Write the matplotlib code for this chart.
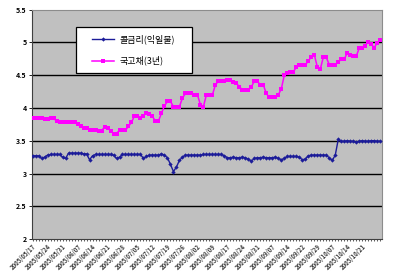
#!/usr/bin/env python3
"""Call rate vs 3y treasury yield line chart (Excel-style)."""

import matplotlib.pyplot as plt
import numpy as np
from matplotlib.patches import Rectangle

plt.rcParams["font.family"] = ["Noto Sans CJK KR", "DejaVu Sans"]

# date labels, one every 5 trading days
date_labels = [
    "2005/05/17", "2005/05/24", "2005/05/31", "2005/06/07", "2005/06/14",
    "2005/06/21", "2005/06/28", "2005/07/05", "2005/07/12", "2005/07/19",
    "2005/07/26", "2005/08/02", "2005/08/09", "2005/08/17", "2005/08/24",
    "2005/08/31", "2005/09/07", "2005/09/14", "2005/09/22", "2005/09/29",
    "2005/10/07", "2005/10/14", "2005/10/21",
]

call_rate = [
    3.27, 3.27, 3.27, 3.23, 3.25, 3.28, 3.29, 3.29, 3.29, 3.29,
    3.25, 3.23, 3.31, 3.31, 3.31, 3.31, 3.31, 3.30, 3.30, 3.21,
    3.27, 3.29, 3.29, 3.29, 3.29, 3.29, 3.29, 3.28, 3.23, 3.25,
    3.29, 3.29, 3.29, 3.29, 3.29, 3.29, 3.29, 3.23, 3.26, 3.28,
    3.28, 3.28, 3.28, 3.30, 3.28, 3.24, 3.14, 3.03, 3.10, 3.20,
    3.25, 3.28, 3.28, 3.28, 3.28, 3.28, 3.28, 3.29, 3.29, 3.29,
    3.29, 3.29, 3.29, 3.29, 3.27, 3.24, 3.24, 3.25, 3.24, 3.24,
    3.25, 3.24, 3.22, 3.19, 3.23, 3.24, 3.24, 3.25, 3.24, 3.24,
    3.24, 3.25, 3.23, 3.21, 3.23, 3.26, 3.26, 3.26, 3.26, 3.25,
    3.21, 3.22, 3.27, 3.28, 3.28, 3.28, 3.28, 3.28, 3.28, 3.24,
    3.20, 3.28, 3.52, 3.49, 3.49, 3.50, 3.49, 3.49, 3.48, 3.49,
    3.50, 3.49, 3.49, 3.50, 3.50, 3.49, 3.49,
]

ktb_3y = [
    3.84, 3.84, 3.84, 3.84, 3.83, 3.83, 3.84, 3.84, 3.80, 3.79,
    3.78, 3.78, 3.78, 3.78, 3.78, 3.75, 3.72, 3.70, 3.70, 3.66,
    3.66, 3.66, 3.65, 3.65, 3.71, 3.70, 3.65, 3.61, 3.61, 3.66,
    3.66, 3.66, 3.72, 3.78, 3.88, 3.88, 3.85, 3.88, 3.93, 3.90,
    3.87, 3.80, 3.80, 3.92, 4.03, 4.10, 4.10, 4.02, 4.02, 4.02,
    4.15, 4.22, 4.22, 4.22, 4.20, 4.20, 4.05, 4.02, 4.20, 4.20,
    4.20, 4.35, 4.41, 4.41, 4.41, 4.43, 4.43, 4.40, 4.38, 4.32,
    4.28, 4.28, 4.28, 4.32, 4.41, 4.41, 4.35, 4.35, 4.22, 4.16,
    4.16, 4.16, 4.20, 4.29, 4.50, 4.53, 4.55, 4.55, 4.62, 4.66,
    4.66, 4.66, 4.71, 4.78, 4.81, 4.63, 4.59, 4.77, 4.77, 4.66,
    4.66, 4.66, 4.70, 4.74, 4.74, 4.84, 4.80, 4.79, 4.79, 4.91,
    4.91, 4.95, 5.01, 4.97, 4.92, 4.99, 5.03,
]

y_ticks = [2, 2.5, 3, 3.5, 4, 4.5, 5, 5.5]
y_tick_labels = ["2", "2.5", "3", "3.5", "4", "4.5", "5", "5.5"]


def main() -> int:
    x = np.arange(len(call_rate))
    fig = plt.figure(figsize=(4.0, 2.8), dpi=100)
    fig.patch.set_facecolor("white")
    ax = fig.add_axes([0.08, 0.146, 0.875, 0.82])
    ax.set_facecolor("#c0c0c0")

    for yv in y_ticks[1:-1]:
        ax.axhline(yv, color="black", linewidth=1.0, zorder=1)

    ax.plot(x, call_rate, color="#1c1c99", linewidth=1.0, marker="D",
            markersize=2.2, markeredgewidth=0, label="콜금리(익일물)", zorder=3)
    ax.plot(x, ktb_3y, color="#ff00ff", linewidth=1.1, marker="s",
            markersize=2.8, markeredgewidth=0, label="국고채(3년)", zorder=3)

    ax.set_xlim(-0.2, len(x) - 0.4)
    ax.set_ylim(2, 5.5)
    ax.set_yticks(y_ticks)
    ax.set_yticklabels(y_tick_labels, fontsize=5, fontweight="bold")
    tick_pos = np.arange(len(date_labels)) * 5
    ax.set_xticks(tick_pos)
    ax.set_xticklabels(date_labels, rotation=45, ha="right", rotation_mode="anchor",
                       fontsize=4.3, fontweight="bold")
    ax.set_xticks(x, minor=True)
    ax.tick_params(axis="x", which="both", length=1.5, width=0.6, colors="#404040", pad=1)
    ax.tick_params(axis="y", length=2, width=0.6, pad=2)

    for side in ["top", "right"]:
        ax.spines[side].set_color("#8c8c8c")
        ax.spines[side].set_linewidth(0.8)
    ax.spines["left"].set_color("#404040")
    ax.spines["bottom"].set_color("#404040")

    # legend box drawn by hand, entries placed inside it
    box = Rectangle((0.126, 0.723), 0.331, 0.201, transform=ax.transAxes,
                    facecolor="white", edgecolor="black", linewidth=0.9, zorder=5)
    ax.add_patch(box)
    leg = ax.legend(loc="center left", bbox_to_anchor=(0.172, 0.8235), fontsize=6.5,
                    frameon=False, handlelength=2.4, labelspacing=1.3, borderpad=0,
                    borderaxespad=0, handletextpad=0.6)
    leg.set_zorder(6)

    fig.savefig("out.png", dpi=100)
    plt.close(fig)
    return 0


if __name__ == "__main__":
    raise SystemExit(main())
